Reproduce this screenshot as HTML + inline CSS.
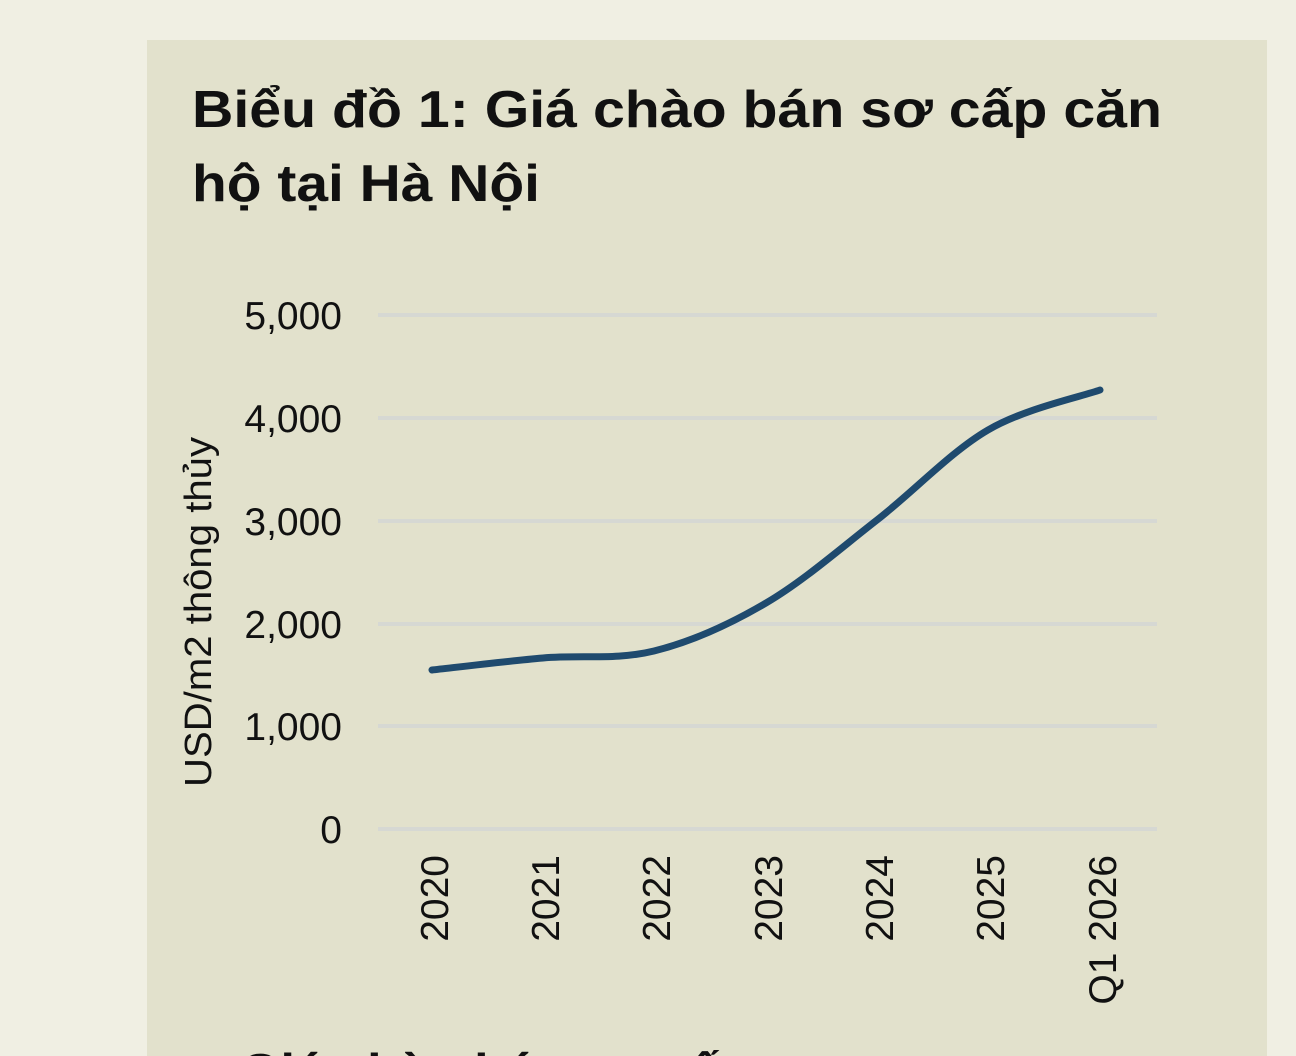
<!DOCTYPE html>
<html><head><meta charset="utf-8"><style>
html,body{margin:0;padding:0;width:1296px;height:1056px;overflow:hidden;background:#f0efe3;}
svg{display:block}
</style></head><body>
<svg width="1296" height="1056" viewBox="0 0 1296 1056" xmlns="http://www.w3.org/2000/svg">
<rect x="147" y="40" width="1120" height="1016" fill="#e2e1cc"/>
<g font-family="Liberation Sans, DejaVu Sans, sans-serif" font-weight="bold" font-size="52" fill="#111">
<text x="192" y="127" textLength="970" lengthAdjust="spacingAndGlyphs">Biểu đồ 1: Giá chào bán sơ cấp căn</text>
<text x="192" y="201" textLength="348" lengthAdjust="spacingAndGlyphs">hộ tại Hà Nội</text>
<text x="240" y="1090">Giá chào bán sơ cấp</text>
</g>
<g stroke="#d6d8d3" stroke-width="4">
<line x1="378" y1="315" x2="1157" y2="315"/>
<line x1="378" y1="418" x2="1157" y2="418"/>
<line x1="378" y1="521" x2="1157" y2="521"/>
<line x1="378" y1="624" x2="1157" y2="624"/>
<line x1="378" y1="726" x2="1157" y2="726"/>
<line x1="378" y1="829" x2="1157" y2="829"/>
</g>
<g font-family="Liberation Sans, sans-serif" font-size="39" fill="#111" text-anchor="end">
<text x="342" y="329">5,000</text>
<text x="342" y="432">4,000</text>
<text x="342" y="535">3,000</text>
<text x="342" y="638">2,000</text>
<text x="342" y="740">1,000</text>
<text x="342" y="843">0</text>
</g>
<text transform="translate(211,612) rotate(-90)" font-family="Liberation Sans, sans-serif" font-size="38" fill="#111" text-anchor="middle" textLength="350" lengthAdjust="spacingAndGlyphs">USD/m2 thông thủy</text>
<g font-family="Liberation Sans, sans-serif" font-size="39" fill="#111" text-anchor="end">
<text transform="translate(448,855) rotate(-90)">2020</text>
<text transform="translate(559,855) rotate(-90)">2021</text>
<text transform="translate(670,855) rotate(-90)">2022</text>
<text transform="translate(782,855) rotate(-90)">2023</text>
<text transform="translate(893,855) rotate(-90)">2024</text>
<text transform="translate(1004,855) rotate(-90)">2025</text>
<text transform="translate(1116,855) rotate(-90)">Q1 2026</text>
</g>
<path d="M432,670 C450.5,668 506,661.2 543,658 C580,654.8 616.8,660.2 654,651 C691.2,641.8 728.8,624.8 766,603 C803.2,581.2 840,548.8 877,520 C914,491.2 950.8,451.7 988,430 C1025.2,408.3 1081.3,396.7 1100,390" fill="none" stroke="#1f4a6e" stroke-width="7" stroke-linecap="round"/>
</svg>
</body></html>
